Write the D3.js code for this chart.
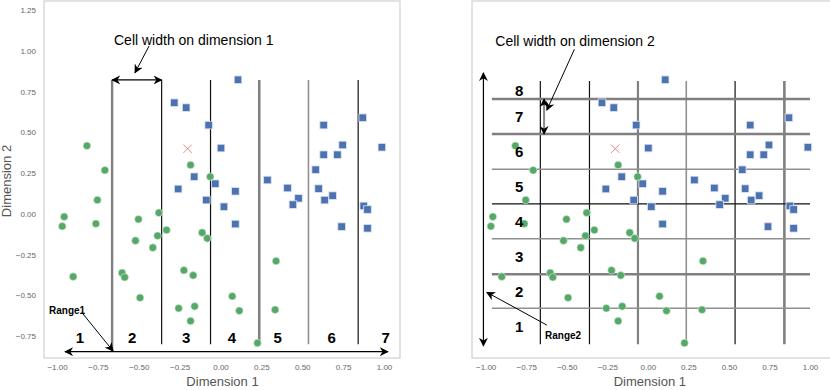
<!DOCTYPE html>
<meta charset="utf-8">
<style>
body { margin: 0; background: white; }
svg { font-family: "Liberation Sans", Arial, sans-serif; }
.tick text { fill: #666; font-size: 8px; }
.axis-title { fill: #555; font-size: 13px; }
.cellnum { font-weight: bold; font-size: 15px; fill: #000; }
.note { font-size: 14px; fill: #000; }
.range-label { font-weight: bold; font-size: 10px; fill: #000; }
</style>
<svg width="830" height="390"></svg>
<script src="https://d3js.org/d3.v7.min.js"></script>
<script>

// green class (circles)
var greenX = [-0.817, -0.707, -0.753, -0.183, -0.063, -0.956, -0.968, -0.762, -0.901, -0.502,
              -0.377, -0.330, -0.385, -0.520, -0.414, -0.112, -0.081, -0.602, -0.586, -0.224,
              -0.167, -0.492, -0.256, -0.158, -0.183, 0.340, 0.072, 0.115, 0.334, 0.226];
var greenY = [0.417, 0.267, 0.084, 0.299, 0.227, -0.018, -0.077, -0.061, -0.386, -0.034,
              0.006, -0.100, -0.135, -0.165, -0.208, -0.116, -0.151, -0.363, -0.390, -0.347,
              -0.378, -0.515, -0.580, -0.568, -0.658, -0.290, -0.506, -0.595, -0.589, -0.793];

// blue class (squares)
var blueX = [-0.283, -0.210, -0.072, 0.003, -0.161, -0.032, -0.259, -0.087, 0.021, 0.107,
             0.631, 0.870, 0.987, 0.747, 0.631, 0.715, 0.582, 0.287, 0.091, 0.410,
             0.600, 0.686, 0.477, 0.443, 0.637, 0.876, 0.899, 0.091, 0.741, 0.899];
var blueY = [0.681, 0.651, 0.544, 0.403, 0.227, 0.184, 0.152, 0.084, 0.043, 0.822,
             0.544, 0.589, 0.408, 0.422, 0.362, 0.362, 0.270, 0.207, 0.138, 0.158,
             0.154, 0.111, 0.095, 0.056, 0.084, 0.048, 0.026, -0.063, -0.079, -0.089];

var crossPoint = [-0.201, 0.399];

// grid cuts
var dim1Cuts = [-0.663, -0.360, -0.061, 0.237, 0.538, 0.842];
var dim2Cuts = [0.704, 0.489, 0.273, 0.061, -0.153, -0.371, -0.580];

var xTicks = [-1, -0.75, -0.5, -0.25, 0, 0.25, 0.5, 0.75, 1];
var yTicks = [-0.75, -0.5, -0.25, 0, 0.25, 0.5, 0.75, 1, 1.25];

var dim1Labels = ["1", "2", "3", "4", "5", "6", "7"];
var dim1LabelX = [-0.86, -0.54, -0.21, 0.07, 0.35, 0.68, 1.01];
var dim2Labels = ["1", "2", "3", "4", "5", "6", "7", "8"];

var svg = d3.select("svg");

var defs = svg.append("defs");
defs.append("marker")
    .attr("id", "head")
    .attr("viewBox", "0 0 10 10")
    .attr("refX", 9).attr("refY", 5)
    .attr("markerWidth", 9).attr("markerHeight", 9)
    .attr("markerUnits", "userSpaceOnUse")
    .attr("orient", "auto-start-reverse")
  .append("path")
    .attr("d", "M0,0 L10,5 L0,10 L3,5 Z")
    .attr("fill", "#000");

var y = d3.scaleLinear().domain([-0.75, 1.25]).range([336, 10]);

function panel(g, x, frame, showY) {
    g.append("rect")
        .attr("x", frame[0]).attr("y", 1)
        .attr("width", frame[1] - frame[0]).attr("height", 357)
        .attr("fill", "none").attr("stroke", "#cfcfcf").attr("stroke-width", 1.2);

    g.append("g")
        .attr("transform", "translate(0,358)")
        .call(d3.axisBottom(x).tickValues(xTicks).tickSize(0).tickPadding(6).tickFormat(d3.format(".2f")))
        .call(function(a) { a.select(".domain").remove(); });

    if (showY) {
        g.append("g")
            .attr("transform", "translate(" + frame[0] + ",0)")
            .call(d3.axisLeft(y).tickValues(yTicks).tickSize(0).tickPadding(8).tickFormat(d3.format(".2f")))
            .call(function(a) { a.select(".domain").remove(); });
        g.append("text")
            .attr("class", "axis-title")
            .attr("transform", "translate(11,181) rotate(-90)")
            .attr("text-anchor", "middle")
            .text("Dimension 2");
    }

    g.append("text")
        .attr("class", "axis-title")
        .attr("x", x(0) + 2).attr("y", 386)
        .attr("text-anchor", "middle")
        .text("Dimension 1");
}

function points(g, x) {
    g.selectAll("circle.green")
        .data(d3.zip(greenX, greenY))
        .enter().append("circle")
        .attr("class", "green")
        .attr("cx", function(d) { return x(d[0]); })
        .attr("cy", function(d) { return y(d[1]); })
        .attr("r", 3.8)
        .attr("fill", "#55a868")
        .attr("stroke", "#d8eedc").attr("stroke-width", 0.6);

    var s = 7.6;
    g.selectAll("rect.blue")
        .data(d3.zip(blueX, blueY))
        .enter().append("rect")
        .attr("class", "blue")
        .attr("x", function(d) { return x(d[0]) - s / 2; })
        .attr("y", function(d) { return y(d[1]) - s / 2; })
        .attr("width", s).attr("height", s)
        .attr("fill", "#4c72b0")
        .attr("stroke", "#dce5f3").attr("stroke-width", 0.8);

    var cx = x(crossPoint[0]), cy = y(crossPoint[1]), r = 4.2;
    g.append("path")
        .attr("d", "M" + (cx - r) + "," + (cy - r) + "L" + (cx + r) + "," + (cy + r) +
                   "M" + (cx - r) + "," + (cy + r) + "L" + (cx + r) + "," + (cy - r))
        .attr("stroke", "#e58a8c").attr("stroke-width", 1);
}

function arrow(g, x1, y1, x2, y2, both, color, width) {
    var l = g.append("line")
        .attr("x1", x1).attr("y1", y1).attr("x2", x2).attr("y2", y2)
        .attr("stroke", color || "#000").attr("stroke-width", width || 1.2)
        .attr("marker-end", "url(#head)");
    if (both) l.attr("marker-start", "url(#head)");
}

// ---------- left panel ----------
var xL = d3.scaleLinear().domain([-1, 1]).range([57, 384]);
var left = svg.append("g");
panel(left, xL, [44, 400], true);

var styleL = [["#808080", 2.4], ["#111", 1.2], ["#111", 1.2], ["#808080", 2.6], ["#909090", 1.6], ["#111", 1.2]];
left.selectAll("line.cut")
    .data(dim1Cuts)
    .enter().append("line")
    .attr("class", "cut")
    .attr("x1", function(d) { return xL(d); })
    .attr("x2", function(d) { return xL(d); })
    .attr("y1", y(0.821))
    .attr("y2", function(d, i) { return i == 0 ? y(-0.846) : y(-0.80); })
    .attr("stroke", function(d, i) { return styleL[i][0]; })
    .attr("stroke-width", function(d, i) { return styleL[i][1]; });

points(left, xL);

left.selectAll("text.cellnum")
    .data(dim1Labels)
    .enter().append("text")
    .attr("class", "cellnum")
    .attr("x", function(d, i) { return xL(dim1LabelX[i]); })
    .attr("y", y(-0.793))
    .attr("text-anchor", "middle")
    .text(function(d) { return d; });

arrow(left, xL(-0.951), y(-0.846), xL(1.024), y(-0.846), true);
arrow(left, xL(dim1Cuts[0]), y(0.821), xL(dim1Cuts[1]), y(0.821), true);
arrow(left, xL(-0.437), y(1.029), xL(-0.523), y(0.865), false, "#000", 1);
left.append("text").attr("class", "note")
    .attr("x", 114).attr("y", 45)
    .text("Cell width on dimension 1");
left.append("text").attr("class", "range-label")
    .attr("x", 49).attr("y", 313.5)
    .text("Range1");
arrow(left, xL(-0.847), y(-0.607), xL(-0.657), y(-0.842), false, "#000", 1);

// ---------- right panel ----------
var xR = d3.scaleLinear().domain([-1, 1]).range([485.7, 810]);
var right = svg.append("g");
panel(right, xR, [472, 832], false);

var styleV = [["#111", 1.2], ["#111", 1.2], ["#808080", 2.2], ["#909090", 1.6], ["#111", 1.2], ["#808080", 2.6]];
var styleH = [["#808080", 2.6], ["#808080", 2.6], ["#909090", 1.4], ["#111", 1.2], ["#909090", 1.4], ["#808080", 2.6], ["#909090", 1.4]];

right.selectAll("line.vcut")
    .data(dim1Cuts)
    .enter().append("line")
    .attr("class", "vcut")
    .attr("x1", function(d) { return xR(d); })
    .attr("x2", function(d) { return xR(d); })
    .attr("y1", y(0.814)).attr("y2", y(-0.80))
    .attr("stroke", function(d, i) { return styleV[i][0]; })
    .attr("stroke-width", function(d, i) { return styleV[i][1]; });

right.selectAll("line.hcut")
    .data(dim2Cuts)
    .enter().append("line")
    .attr("class", "hcut")
    .attr("x1", xR(-0.962)).attr("x2", xR(1.0))
    .attr("y1", function(d) { return y(d); })
    .attr("y2", function(d) { return y(d); })
    .attr("stroke", function(d, i) { return styleH[i][0]; })
    .attr("stroke-width", function(d, i) { return styleH[i][1]; });

points(right, xR);

var edges = [0.814].concat(dim2Cuts, [-0.80]).reverse();
right.selectAll("text.cellnum")
    .data(dim2Labels)
    .enter().append("text")
    .attr("class", "cellnum")
    .attr("x", xR(-0.794))
    .attr("y", function(d, i) { return (y(edges[i]) + y(edges[i + 1])) / 2 + 5.5; })
    .attr("text-anchor", "middle")
    .text(function(d) { return d; });

arrow(right, xR(-1.014), y(-0.811), xR(-1.014), y(0.864), true);
arrow(right, xR(-0.640), y(dim2Cuts[0]), xR(-0.640), y(dim2Cuts[1]), true, "#8a8a8a", 2);
arrow(right, xR(-0.453), y(1.009), xR(-0.623), y(0.636), false, "#000", 1);
right.append("text").attr("class", "note")
    .attr("x", 495.3).attr("y", 46)
    .text("Cell width on dimension 2");
right.append("text").attr("class", "range-label")
    .attr("x", 545).attr("y", 338.5)
    .text("Range2");
arrow(right, xR(-0.623), y(-0.683), xR(-0.993), y(-0.482), false, "#000", 1);

</script>
